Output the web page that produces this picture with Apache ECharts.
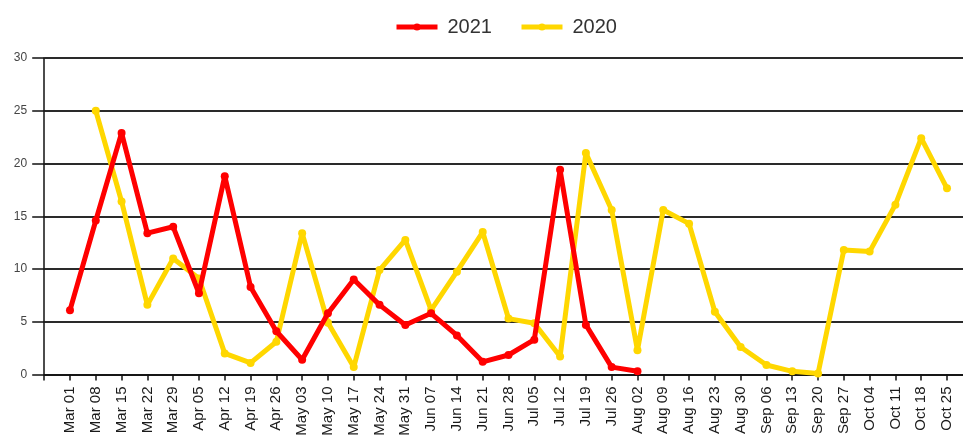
<!DOCTYPE html>
<html>
<head>
<meta charset="utf-8">
<script src="https://cdn.jsdelivr.net/npm/echarts@6/dist/echarts.min.js"></script>
<style>html,body{margin:0;padding:0;background:#fff;overflow:hidden;width:963px;height:443px;}#c{width:975px;height:443px;}</style>
</head>
<body>
<div id="c"></div>
<script>
const categories = ['Mar 01','Mar 08','Mar 15','Mar 22','Mar 29','Apr 05','Apr 12','Apr 19','Apr 26','May 03','May 10','May 17','May 24','May 31','Jun 07','Jun 14','Jun 21','Jun 28','Jul 05','Jul 12','Jul 19','Jul 26','Aug 02','Aug 09','Aug 16','Aug 23','Aug 30','Sep 06','Sep 13','Sep 20','Sep 27','Oct 04','Oct 11','Oct 18','Oct 25'];
const values2021 = [6.1,14.6,22.9,13.4,14.0,7.7,18.8,8.3,4.1,1.4,5.8,9.0,6.6,4.7,5.8,3.7,1.2,1.85,3.3,19.4,4.7,0.7,0.3];
const values2020 = [null,25.0,16.4,6.6,11.0,9.1,2.0,1.1,3.1,13.4,4.9,0.7,9.9,12.75,6.1,9.75,13.5,5.3,4.85,1.7,21.0,15.6,2.3,15.6,14.3,5.95,2.6,0.9,0.3,0.1,11.8,11.65,16.1,22.4,17.65];
const yTicks = [0,5,10,15,20,25,30];

const axisData = [''].concat(categories, ['']);
function pad(arr){ const out=[null].concat(arr); while(out.length<axisData.length) out.push(null); return out; }

const chart = echarts.init(document.getElementById('c'));
chart.setOption({
  animation:false,
  backgroundColor:'#fff',
  legend:{
    left:389, top:12, itemWidth:41, itemHeight:9, itemGap:27,
    lineStyle:{width:5},
    textStyle:{fontSize:20, color:'#333', fontFamily:'Liberation Sans', padding:[0,0,0,5]},
    data:['2021','2020']
  },
  grid:{left:44.2, right:2.2, top:58, bottom:68.5, containLabel:false},
  xAxis:{
    type:'category', data:axisData, boundaryGap:false,
    axisLine:{lineStyle:{color:'#111', width:1.5}},
    axisTick:{alignWithLabel:true, length:6, lineStyle:{color:'#111', width:1.5}, interval:0},
    axisLabel:{rotate:90, interval:0, margin:12, fontSize:15, color:'#1a1a1a', fontFamily:'Liberation Sans'},
    splitLine:{show:false}
  },
  yAxis:{
    type:'value', min:yTicks[0], max:yTicks[yTicks.length-1], interval:5,
    axisLine:{show:true, lineStyle:{color:'#111', width:1.5}},
    axisTick:{show:true, length:12, lineStyle:{color:'#111', width:1.5}},
    axisLabel:{fontSize:12, color:'#444', margin:17, fontFamily:'Liberation Sans'},
    splitLine:{show:true, lineStyle:{color:'#2a2a2a', width:2}}
  },
  series:[
    {name:'2021', type:'line', data:pad(values2021), connectNulls:false,
     symbol:'circle', symbolSize:8, showSymbol:true,
     itemStyle:{color:'#ff0000'}, lineStyle:{color:'#ff0000', width:5}, z:3},
    {name:'2020', type:'line', data:pad(values2020), connectNulls:false,
     symbol:'circle', symbolSize:8, showSymbol:true,
     itemStyle:{color:'#ffd700'}, lineStyle:{color:'#ffd700', width:5}, z:2}
  ]
});
</script>
</body>
</html>
